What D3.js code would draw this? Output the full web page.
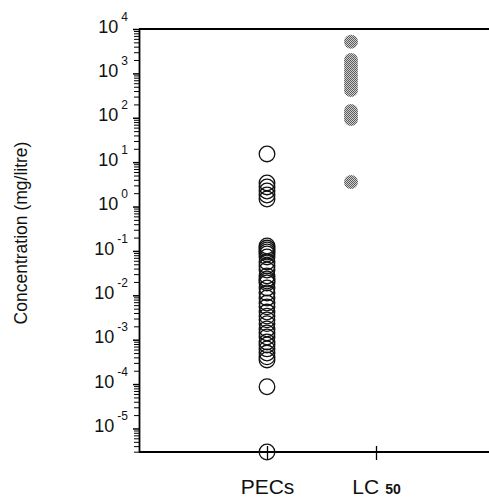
<!DOCTYPE html>
<html>
<head>
<meta charset="utf-8">
<script src="https://cdn.jsdelivr.net/npm/d3@7"></script>
<style>
body { margin: 0; background: #fff; }
text { font-family: "Liberation Sans", Arial, sans-serif; fill: #111; }
</style>
</head>
<body>
<div id="chart"></div>
<script>
// Chart data
var categories = ["PECs", "LC50"];
var xLabelMain = ["PECs", "LC"];
var xLabelSub = ["", "50"];

// PECs (mg/litre), 0 = below the axis
var pecValues = [15.3, 3.4, 2.76, 2.24, 1.82, 1.48,
  0.129, 0.116, 0.105, 0.0946, 0.0853, 0.0731, 0.0564, 0.0458, 0.0372,
  0.0273, 0.0233, 0.021, 0.019, 0.0146, 0.0113, 0.0087, 0.0067, 0.0055,
  0.0042, 0.0034, 0.0028, 0.0023, 0.00175, 0.00142, 0.00115, 0.00089,
  0.00076, 0.00062, 0.0005, 0.00041, 0.00035, 0.000087, 0];

// LC50 (mg/litre)
var lc50Values = [5180, 2004, 1545, 1191, 920, 709, 547, 422, 142, 116, 94, 3.57];

var decadeExponents = [4, 3, 2, 1, 0, -1, -2, -3, -4, -5];
var yDomain = [2.95e-6, 1e4];

var svgWidth = 489;
var svgHeight = 500;

var margin = {
  top: 29,
  right: 0,
  bottom: 48,
  left: 139
};

var width = svgWidth - margin.left - margin.right;
var height = svgHeight - margin.top - margin.bottom;

var svg = d3
  .select("#chart")
  .append("svg")
  .attr("width", svgWidth)
  .attr("height", svgHeight);

// stippled grey fill for the LC50 dots
var pattern = svg.append("defs").append("pattern")
  .attr("id", "stipple")
  .attr("width", 2)
  .attr("height", 2)
  .attr("patternUnits", "userSpaceOnUse");
pattern.append("rect").attr("width", 2).attr("height", 2).attr("fill", "#cfcfcf");
pattern.append("rect").attr("width", 1).attr("height", 1).attr("fill", "#5c5c5c");
pattern.append("rect").attr("x", 1).attr("y", 1).attr("width", 1).attr("height", 1).attr("fill", "#5c5c5c");

var chartGroup = svg.append("g")
  .attr("transform", `translate(${margin.left}, ${margin.top})`);

var xScale = d3.scalePoint()
  .domain(categories)
  .range([128, 237]);

var yLogScale = d3.scaleLog()
  .domain(yDomain)
  .range([height, 0])
  .clamp(true);

var majorTicks = decadeExponents.map(function(e) { return Math.pow(10, e); });
var minorTicks = [];
for (var k = -6; k <= 3; k++) {
  for (var m = 2; m <= 9; m++) {
    var v = m * Math.pow(10, k);
    if (v >= yDomain[0] && v <= yDomain[1]) minorTicks.push(v);
  }
}

// minor ticks
chartGroup.append("g")
  .call(d3.axisLeft(yLogScale).tickValues(minorTicks).tickSize(5).tickFormat(""))
  .call(function(g) { g.select(".domain").remove(); })
  .selectAll("line")
  .attr("stroke", "#000")
  .attr("stroke-width", 1);

// major ticks + labels
var yAxisGroup = chartGroup.append("g")
  .call(d3.axisLeft(yLogScale).tickValues(majorTicks).tickSize(6).tickSizeOuter(0).tickFormat(""));

yAxisGroup.select(".domain")
  .attr("stroke", "#000")
  .attr("stroke-width", 1.8);

yAxisGroup.selectAll(".tick line")
  .attr("stroke", "#000")
  .attr("stroke-width", 1.5);

yAxisGroup.selectAll(".tick text")
  .attr("x", -11)
  .attr("dy", "0.32em")
  .each(function(d) {
    var t = d3.select(this);
    t.append("tspan")
      .attr("font-size", "18px")
      .text("10");
    t.append("tspan")
      .attr("font-size", "12px")
      .attr("dx", 3)
      .attr("dy", -12)
      .text(String(Math.round(Math.log10(d))));
  });

// top frame line
chartGroup.append("line")
  .attr("x1", 0)
  .attr("x2", width)
  .attr("y1", 0)
  .attr("y2", 0)
  .attr("stroke", "#000")
  .attr("stroke-width", 1.8);

// x axis
var xAxisGroup = chartGroup.append("g")
  .attr("transform", `translate(0, ${height})`)
  .call(d3.axisBottom(xScale).tickSize(8).tickFormat(""));

xAxisGroup.select(".domain").remove();

xAxisGroup.append("line")
  .attr("x1", 0)
  .attr("x2", width)
  .attr("stroke", "#000")
  .attr("stroke-width", 1.8);

xAxisGroup.selectAll(".tick line")
  .attr("y1", -6)
  .attr("stroke", "#000")
  .attr("stroke-width", 1.3);

xAxisGroup.selectAll(".tick text")
  .attr("y", 42)
  .attr("dy", 0)
  .each(function(d, i) {
    var t = d3.select(this);
    t.append("tspan")
      .attr("font-size", "21px")
      .text(xLabelMain[i]);
    if (xLabelSub[i]) {
      t.append("tspan")
        .attr("font-size", "14px")
        .attr("font-weight", "bold")
        .attr("dx", 6)
        .text(xLabelSub[i]);
    }
  });

// y axis title
chartGroup.append("text")
  .attr("transform", `translate(${27 - margin.left}, ${233 - margin.top}) rotate(-90)`)
  .style("text-anchor", "middle")
  .attr("font-size", "17.5px")
  .text("Concentration (mg/litre)");

// PECs: open circles
chartGroup.append("g")
  .selectAll("circle")
  .data(pecValues)
  .enter()
  .append("circle")
  .attr("cx", xScale("PECs"))
  .attr("cy", function(d) { return yLogScale(d); })
  .attr("r", 7.8)
  .attr("fill", "none")
  .attr("stroke", "#111")
  .attr("stroke-width", 1.3);

// LC50: stippled grey dots, drawn a little left of their tick as in the original
var lc50Shift = -25;
chartGroup.append("g")
  .selectAll("circle")
  .data(lc50Values)
  .enter()
  .append("circle")
  .attr("cx", xScale("LC50") + lc50Shift)
  .attr("cy", function(d) { return yLogScale(d); })
  .attr("r", 7)
  .attr("fill", "url(#stipple)");
</script>
</body>
</html>
